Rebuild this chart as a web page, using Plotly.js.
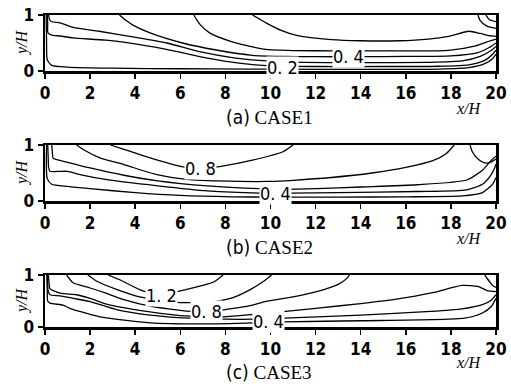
<!DOCTYPE html>
<html>
<head>
<meta charset="utf-8">
<script src="https://cdn.plot.ly/plotly-3.0.1.min.js"></script>
<style>html,body{margin:0;padding:0;background:#fff;}#chart{width:511px;height:384px;}</style>
</head>
<body>
<div id="chart"></div>
<script>
// ---- tick values / labels ----
const xTickVals = [0, 2, 4, 6, 8, 10, 12, 14, 16, 18, 20];
const yTickVals = [0, 1];
const captionTags = ['(a)', '(b)', '(c)'];
const captionNames = ['CASE1', 'CASE2', 'CASE3'];

// ---- CASE1 contour lines (x/H, y/H) ----
const a1_x = [0.05, 0.07, 0.1, 0.3, 1, 3, 6, 9, 12, 15, 17.5, 18.8, 19.5, 19.85, 20];
const a1_y = [1, 0.5, 0.2, 0.1, 0.07, 0.05, 0.04, 0.035, 0.03, 0.03, 0.035, 0.06, 0.13, 0.22, 0.3];
const a2_x = [0.1, 0.12, 0.13, 0.3, 0.67, 1.25, 2.7, 4.2, 5.7, 7.2, 8.6, 10, 12, 15, 17.5, 18.8, 19.5, 19.85, 20];
const a2_y = [1, 0.85, 0.68, 0.64, 0.625, 0.59, 0.55, 0.47, 0.36, 0.23, 0.14, 0.09, 0.08, 0.08, 0.085, 0.11, 0.19, 0.3, 0.37];
const a3_x = [0.16, 0.2, 0.3, 0.67, 1.25, 2.4, 3.9, 5.4, 6.9, 8.3, 9.5, 11, 14, 17, 18.5, 19.3, 19.8, 20];
const a3_y = [1, 0.92, 0.88, 0.86, 0.78, 0.71, 0.61, 0.5, 0.34, 0.24, 0.19, 0.16, 0.15, 0.155, 0.18, 0.26, 0.37, 0.44];
const a4_x = [3.3, 3.6, 3.9, 4.66, 6.1, 7.6, 9.2, 10.5, 12, 14, 16, 18, 19.2, 19.7, 20];
const a4_y = [1, 0.9, 0.82, 0.68, 0.5, 0.375, 0.28, 0.26, 0.255, 0.255, 0.26, 0.27, 0.33, 0.42, 0.5];
const a5_x = [6.6, 6.75, 6.9, 7.3, 8.3, 9.2, 9.8, 11, 13, 16, 17.9, 19.1, 19.6, 20];
const a5_y = [1, 0.9, 0.82, 0.68, 0.52, 0.43, 0.385, 0.365, 0.36, 0.36, 0.37, 0.45, 0.52, 0.57];
const a6_x = [9.2, 9.5, 9.8, 10.5, 11.2, 12.7, 14, 15.7, 17, 17.9, 18.8, 19.3, 19.7, 20];
const a6_y = [1, 0.93, 0.86, 0.72, 0.63, 0.56, 0.54, 0.54, 0.57, 0.62, 0.71, 0.67, 0.63, 0.62];
const a7_x = [19.2, 19.3, 19.6, 20];
const a7_y = [1, 0.9, 0.8, 0.76];
const a8_x = [19.55, 19.7, 20];
const a8_y = [1, 0.92, 0.88];
const aLabelText = ['0. 4', '0. 2'];
const aLabelX = [13.45, 10.55];
const aLabelY = [0.26, 0.055];

// ---- CASE2 contour lines ----
const b1_x = [0.07, 0.1, 0.3, 1, 2, 4, 6, 8.3, 10, 13, 16, 18.5, 19.4, 19.85, 20];
const b1_y = [1, 0.4, 0.3, 0.26, 0.22, 0.15, 0.1, 0.075, 0.07, 0.07, 0.075, 0.09, 0.15, 0.3, 0.42];
const b2_x = [0.12, 0.14, 0.16, 0.22, 0.67, 1.0, 1.55, 2.75, 5, 7.2, 9.5, 10.8, 13, 16.5, 18.7, 19.4, 19.75, 19.95, 20];
const b2_y = [1, 0.8, 0.6, 0.53, 0.53, 0.53, 0.47, 0.38, 0.27, 0.18, 0.14, 0.14, 0.15, 0.17, 0.2, 0.3, 0.45, 0.6, 0.66];
const b3_x = [0.3, 0.33, 0.36, 0.53, 1.0, 2.0, 3.5, 5, 7.2, 9.5, 10.6, 12, 14, 16.5, 18.7, 19.4, 19.8, 20];
const b3_y = [1, 0.85, 0.76, 0.74, 0.69, 0.59, 0.46, 0.36, 0.27, 0.22, 0.21, 0.22, 0.25, 0.29, 0.375, 0.55, 0.73, 0.8];
const b4_x = [1.4, 1.7, 2.44, 3.5, 4.97, 6.4, 8.6, 10, 11, 12.7, 14.5, 16, 17.2, 17.8, 18.15];
const b4_y = [1, 0.92, 0.77, 0.65, 0.47, 0.38, 0.35, 0.35, 0.37, 0.42, 0.5, 0.6, 0.72, 0.85, 1];
const b5_x = [2.9, 3.5, 4.66, 6.0, 6.9, 7.8, 9.2, 10.55, 11];
const b5_y = [1, 0.92, 0.77, 0.62, 0.58, 0.62, 0.73, 0.88, 1];
const b6_x = [18.85, 18.95, 19.2, 19.5, 19.8, 20];
const b6_y = [1, 0.88, 0.75, 0.68, 0.7, 0.75];
const bLabelText = ['0. 8', '0. 4'];
const bLabelX = [6.9, 10.2];
const bLabelY = [0.58, 0.14];

// ---- CASE3 contour lines ----
const c1_x = [0.08, 0.1, 0.12, 0.22, 0.8, 1.1, 2.4, 4.66, 6.9, 9.3, 10.6, 14, 18.6, 19.4, 19.8, 20];
const c1_y = [1, 0.7, 0.5, 0.46, 0.42, 0.36, 0.2, 0.08, 0.06, 0.08, 0.1, 0.12, 0.17, 0.27, 0.4, 0.55];
const c2_x = [0.11, 0.14, 0.22, 0.67, 1.25, 2.0, 3.2, 4.66, 6.4, 8, 9.3, 10.6, 14, 17.1, 18.5, 19.4, 19.8, 20];
const c2_y = [1, 0.7, 0.62, 0.6, 0.55, 0.49, 0.33, 0.23, 0.17, 0.15, 0.15, 0.17, 0.23, 0.3, 0.35, 0.43, 0.52, 0.62];
const c3_x = [0.15, 0.18, 0.22, 0.67, 1.4, 2.0, 2.9, 4.66, 6.0, 7.0, 8.07, 10, 12, 14, 15.65, 17.2, 18.5, 19.2, 19.6, 20];
const c3_y = [1, 0.85, 0.74, 0.65, 0.62, 0.55, 0.42, 0.29, 0.22, 0.2, 0.2, 0.27, 0.36, 0.45, 0.54, 0.66, 0.8, 0.78, 0.7, 0.68];
const c4_x = [0.96, 1.25, 2.0, 2.7, 3.46, 4.66, 6.0, 6.5, 7.15, 7.9, 9, 9.76, 11, 12.05, 13, 13.4, 13.5];
const c4_y = [1, 0.85, 0.75, 0.65, 0.53, 0.4, 0.32, 0.3, 0.29, 0.33, 0.4, 0.49, 0.58, 0.68, 0.82, 0.94, 1];
const c5_x = [1.9, 2.3, 3.2, 4.2, 5.7, 7.2, 8.3, 9.1, 9.7, 10.05];
const c5_y = [1, 0.88, 0.72, 0.58, 0.48, 0.47, 0.56, 0.72, 0.88, 1];
const c6_x = [2.8, 3.4, 4.2, 4.6, 5.15, 5.85, 7.0, 7.5, 7.9];
const c6_y = [1, 0.89, 0.72, 0.66, 0.62, 0.68, 0.8, 0.87, 1];
const c7_x = [19.5, 19.7, 19.85, 20];
const c7_y = [1, 0.88, 0.8, 0.76];
const cLabelText = ['1. 2', '0. 8', '0. 4'];
const cLabelX = [5.15, 7.15, 9.9];
const cLabelY = [0.6, 0.29, 0.1];

// ---- build ----
const W = 511, H = 384;
const plotLeft = 45, plotRight = 496;
const panels = [
  {top: 15, bottom: 71, lines: [[a1_x,a1_y],[a2_x,a2_y],[a3_x,a3_y],[a4_x,a4_y],[a5_x,a5_y],[a6_x,a6_y],[a7_x,a7_y],[a8_x,a8_y]], lt: aLabelText, lx: aLabelX, ly: aLabelY, xh: 108, cap: 117},
  {top: 145, bottom: 201, lines: [[b1_x,b1_y],[b2_x,b2_y],[b3_x,b3_y],[b4_x,b4_y],[b5_x,b5_y],[b6_x,b6_y]], lt: bLabelText, lx: bLabelX, ly: bLabelY, xh: 238, cap: 247},
  {top: 275, bottom: 327, lines: [[c1_x,c1_y],[c2_x,c2_y],[c3_x,c3_y],[c4_x,c4_y],[c5_x,c5_y],[c6_x,c6_y],[c7_x,c7_y]], lt: cLabelText, lx: cLabelX, ly: cLabelY, xh: 362, cap: 372}
];

const narrow = 'Liberation Sans Narrow, DejaVu Sans Condensed, Arial Narrow, sans-serif';
const serif = 'Liberation Serif, DejaVu Serif, serif';
const traces = [];
const layout = {
  width: W, height: H,
  margin: {l: 0, r: 0, t: 0, b: 0},
  paper_bgcolor: '#fff', plot_bgcolor: '#fff',
  showlegend: false,
  annotations: []
};

panels.forEach((p, i) => {
  const n = i === 0 ? '' : String(i + 1);
  const xa = 'xaxis' + n, ya = 'yaxis' + n;
  layout[xa] = {
    domain: [plotLeft / W, plotRight / W], range: [0, 20], anchor: 'y' + n,
    tickvals: xTickVals, ticktext: xTickVals.map(String),
    ticks: 'outside', ticklen: 5, tickwidth: 1.5, tickcolor: '#000',
    showline: true, mirror: true, linewidth: 2.5, linecolor: '#000',
    showgrid: false, zeroline: false, ticklabelstandoff: 0,
    tickfont: {family: narrow, size: 17, weight: 'bold', color: '#000'}
  };
  layout[ya] = {
    domain: [1 - p.bottom / H, 1 - p.top / H], range: [0, 1], anchor: 'x' + n,
    tickvals: yTickVals, ticktext: yTickVals.map(String),
    ticks: 'outside', ticklen: 5, tickwidth: 1.5, tickcolor: '#000',
    showline: true, mirror: true, linewidth: 2.5, linecolor: '#000',
    showgrid: false, zeroline: false,
    tickfont: {family: narrow, size: 17, weight: 'bold', color: '#000'}
  };
  p.lines.forEach(([lx, ly]) => {
    traces.push({
      type: 'scatter', mode: 'lines', x: lx, y: ly,
      xaxis: 'x' + n, yaxis: 'y' + n,
      line: {color: '#000', width: 1.3, shape: 'spline', smoothing: 0.6},
      hoverinfo: 'skip'
    });
  });
  p.lt.forEach((t, k) => {
    layout.annotations.push({
      xref: 'x' + n, yref: 'y' + n, x: p.lx[k], y: p.ly[k],
      text: t, showarrow: false, bgcolor: '#fff', borderpad: 0,
      font: {family: narrow, size: 18, color: '#000'},
      xanchor: 'center', yanchor: 'middle'
    });
  });
  // y/H axis label
  layout.annotations.push({
    xref: 'paper', yref: 'paper', x: 22 / W, y: 1 - (p.top + p.bottom) / 2 / H,
    text: '<i>y/H</i>', showarrow: false, textangle: -90,
    font: {family: serif, size: 16, color: '#000'},
    xanchor: 'center', yanchor: 'middle'
  });
  // x/H axis label
  layout.annotations.push({
    xref: 'paper', yref: 'paper', x: 469 / W, y: 1 - p.xh / H,
    text: '<i>x/H</i>', showarrow: false,
    font: {family: serif, size: 16, color: '#000'},
    xanchor: 'center', yanchor: 'middle'
  });
  // caption
  layout.annotations.push({
    xref: 'paper', yref: 'paper', x: 269 / W, y: 1 - p.cap / H,
    text: '<span style="font-family:DejaVu Sans Condensed">' + captionTags[i] + '</span> ' + captionNames[i],
    showarrow: false,
    font: {family: serif, size: 19, color: '#000'},
    xanchor: 'center', yanchor: 'middle'
  });
});

Plotly.newPlot('chart', traces, layout, {staticPlot: true, displayModeBar: false});
</script>
</body>
</html>
